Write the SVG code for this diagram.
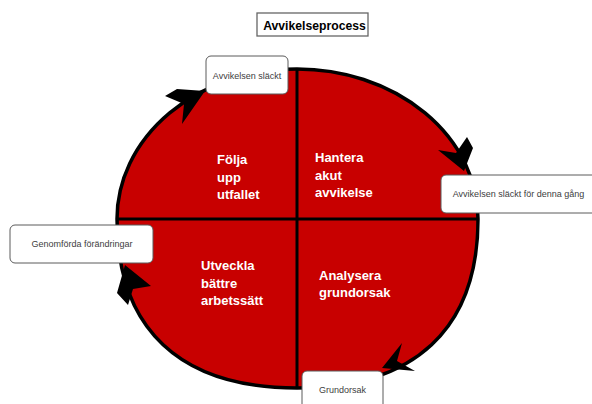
<svg xmlns="http://www.w3.org/2000/svg" width="592" height="404" viewBox="0 0 592 404">
  <style>
    .q { font-family: "Liberation Sans", Arial, sans-serif; font-size: 13px; font-weight: bold; fill: #ffffff; }
    .lbl { font-family: "Liberation Sans", Arial, sans-serif; font-size: 9px; fill: #404040; text-anchor: middle; }
    .box { fill: #ffffff; stroke: #5a5a5a; stroke-width: 1; }
    .head { fill: #000000; }
  </style>
  <rect width="592" height="404" fill="#ffffff"/>

  <g id="title">
    <rect x="257" y="13" width="111" height="23" fill="#ffffff" stroke="#666666" stroke-width="1.3"/>
    <text x="314.5" y="30" font-family="'Liberation Sans', Arial, sans-serif" font-size="12.2" font-weight="bold" fill="#000000" text-anchor="middle">Avvikelseprocess</text>
  </g>

  <g id="cycle">
    <path d="M117,219 A180,150 0 0 1 297,69 A181,150 0 0 1 478,219 C478,329 414.6,388 297,388 C180,388 117,329 117,219 Z" fill="#C80000" stroke="#000000" stroke-width="3.5"/>
    <line x1="118" y1="219" x2="477" y2="219" stroke="#000000" stroke-width="3"/>
    <line x1="297" y1="70" x2="297" y2="387" stroke="#000000" stroke-width="3"/>
  </g>

  <g id="q-folja">
    <text class="q" x="217" y="164">Följa</text>
    <text class="q" x="217" y="181.5">upp</text>
    <text class="q" x="217" y="199">utfallet</text>
  </g>
  <g id="q-hantera">
    <text class="q" x="315" y="162">Hantera</text>
    <text class="q" x="315" y="179.5">akut</text>
    <text class="q" x="315" y="197">avvikelse</text>
  </g>
  <g id="q-utveckla">
    <text class="q" x="201" y="270">Utveckla</text>
    <text class="q" x="201" y="287.5">bättre</text>
    <text class="q" x="201" y="305">arbetssätt</text>
  </g>
  <g id="q-analysera">
    <text class="q" x="319" y="279.5">Analysera</text>
    <text class="q" x="319" y="297">grundorsak</text>
  </g>

  <g id="connectors">
    <polygon class="head" points="205,91 182,124 184,104 165,96 177,89"/>
    <polygon class="head" points="464,171 438,150 456,153 467,137 473,148"/>
    <polygon class="head" points="382,368 415,371 397,361 402,343"/>
    <polygon class="head" points="125,265 151,286 133,289 128,305 117,293"/>
  </g>

  <g id="box-slackt">
    <rect class="box" x="206" y="56" width="82" height="38" rx="5"/>
    <text class="lbl" x="247" y="78.5" font-size="8.6">Avvikelsen släckt</text>
  </g>
  <g id="box-denna-gang">
    <rect class="box" x="441" y="175" width="160" height="38" rx="5"/>
    <text class="lbl" x="518.5" y="197">Avvikelsen släckt för denna gång</text>
  </g>
  <g id="box-genomforda">
    <rect class="box" x="10" y="225" width="143" height="38" rx="5"/>
    <text class="lbl" x="82" y="247">Genomförda förändringar</text>
  </g>
  <g id="box-grundorsak">
    <rect class="box" x="302" y="371" width="81" height="40" rx="5"/>
    <text class="lbl" x="342.5" y="393">Grundorsak</text>
  </g>
</svg>
